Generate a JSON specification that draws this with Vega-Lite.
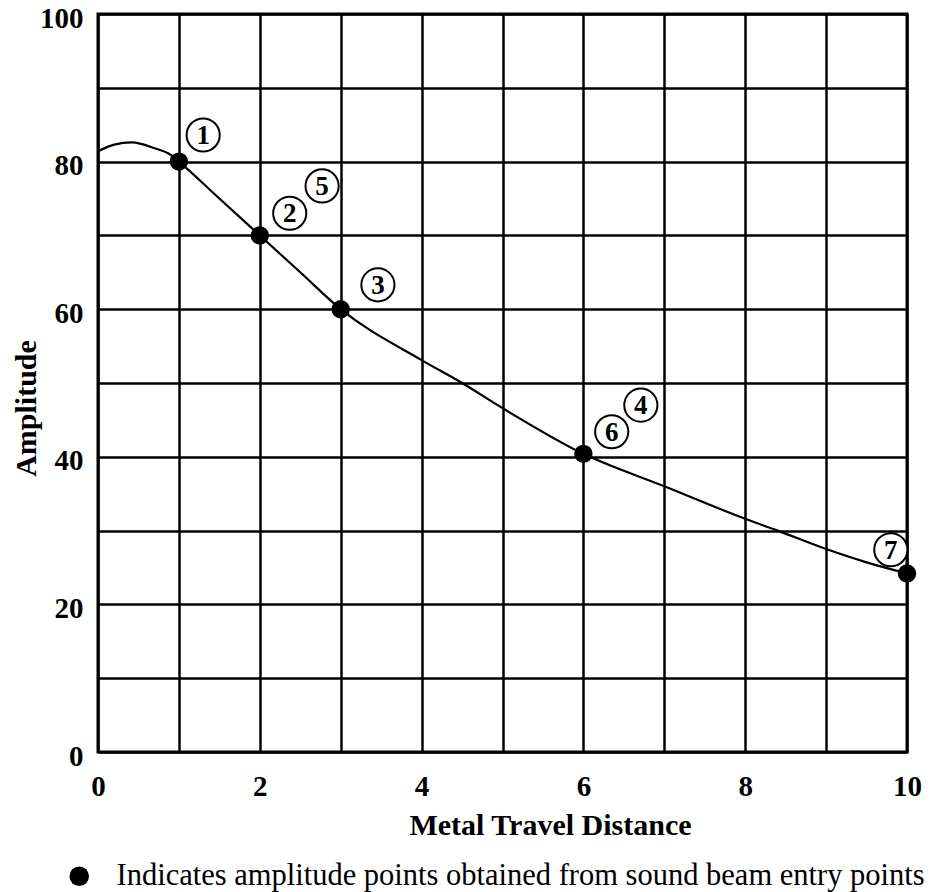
{
  "$schema": "https://vega.github.io/schema/vega-lite/v6.json",
  "width": 809,
  "height": 738,
  "autosize": {"type": "none"},
  "padding": {"left": 98, "top": 14, "right": 23, "bottom": 140},
  "background": "white",
  "config": {
    "view": {"stroke": "black", "strokeWidth": 3},
    "font": "Liberation Serif",
    "axis": {
      "grid": true, "gridColor": "black", "gridWidth": 2.5, "gridOpacity": 1,
      "ticks": false, "domain": false, "labelFlush": false,
      "labelFont": "Liberation Serif", "labelFontWeight": "bold", "labelFontSize": 29, "labelColor": "black",
      "titleFont": "Liberation Serif", "titleFontWeight": "bold", "titleFontSize": 30, "titleColor": "black"
    }
  },
  "datasets": {
    "curve": [
      {"d": 0, "a": 81.4}, {"d": 0.2, "a": 82.3}, {"d": 0.42, "a": 82.6}, {"d": 0.7, "a": 81.8},
      {"d": 0.9, "a": 80.9}, {"d": 1, "a": 80}, {"d": 1.5, "a": 75}, {"d": 2, "a": 70},
      {"d": 2.5, "a": 65}, {"d": 3, "a": 60}, {"d": 4, "a": 53.1}, {"d": 4.5, "a": 50},
      {"d": 5, "a": 46.6}, {"d": 6, "a": 40.4}, {"d": 7, "a": 36.0}, {"d": 8, "a": 31.6},
      {"d": 8.4, "a": 30}, {"d": 9, "a": 27.5}, {"d": 9.5, "a": 25.7}, {"d": 10, "a": 24.2}
    ],
    "points": [
      {"d": 1, "a": 80}, {"d": 2, "a": 70}, {"d": 3, "a": 60}, {"d": 6, "a": 40.4}, {"d": 10, "a": 24.2}
    ],
    "labels": [
      {"d": 1.3, "a": 83.6, "n": "1"},
      {"d": 2.37, "a": 73.0, "n": "2"},
      {"d": 3.46, "a": 63.3, "n": "3"},
      {"d": 6.71, "a": 47.0, "n": "4"},
      {"d": 2.77, "a": 76.7, "n": "5"},
      {"d": 6.35, "a": 43.4, "n": "6"},
      {"d": 9.8, "a": 27.4, "n": "7"}
    ]
  },
  "encoding": {
    "x": {
      "field": "d", "type": "quantitative",
      "scale": {"domain": [0, 10], "nice": false, "zero": false},
      "axis": {
        "values": [0, 1, 2, 3, 4, 5, 6, 7, 8, 9, 10],
        "labelExpr": "datum.value % 2 === 0 ? datum.label : ''",
        "labelPadding": 20, "title": "Metal Travel Distance", "titleX": 452, "titleY": 58
      }
    },
    "y": {
      "field": "a", "type": "quantitative",
      "scale": {"domain": [0, 100], "nice": false},
      "axis": {
        "values": [0, 10, 20, 30, 40, 50, 60, 70, 80, 90, 100],
        "labelExpr": "datum.value % 20 === 0 ? datum.label : ''",
        "labelPadding": 15, "labelOffset": 4, "title": "Amplitude", "titleX": -57, "titleY": 394
      }
    }
  },
  "layer": [
    {
      "data": {"name": "curve"},
      "mark": {"type": "line", "interpolate": "monotone", "color": "black", "strokeWidth": 2.2}
    },
    {
      "data": {"name": "points"},
      "mark": {"type": "point", "shape": "circle", "filled": true, "size": 340, "opacity": 1},
      "encoding": {
        "color": {
          "datum": "Indicates amplitude points obtained from sound beam entry points",
          "scale": {"range": ["black"]},
          "legend": {
            "title": null, "orient": "none", "legendX": -34, "legendY": 847,
            "labelFont": "Liberation Serif", "labelFontSize": 30.5, "labelColor": "black", "labelLimit": 2000,
            "symbolSize": 380, "symbolType": "circle", "labelOffset": 22, "symbolOpacity": 1
          }
        }
      }
    },
    {
      "data": {"name": "labels"},
      "mark": {"type": "point", "shape": "circle", "filled": true, "fill": "white", "stroke": "black", "strokeWidth": 2, "size": 1100, "opacity": 1}
    },
    {
      "data": {"name": "labels"},
      "mark": {"type": "text", "font": "Liberation Serif", "fontWeight": "bold", "fontSize": 27, "color": "black", "baseline": "middle", "align": "center", "dy": 1},
      "encoding": {"text": {"field": "n"}}
    }
  ]
}
